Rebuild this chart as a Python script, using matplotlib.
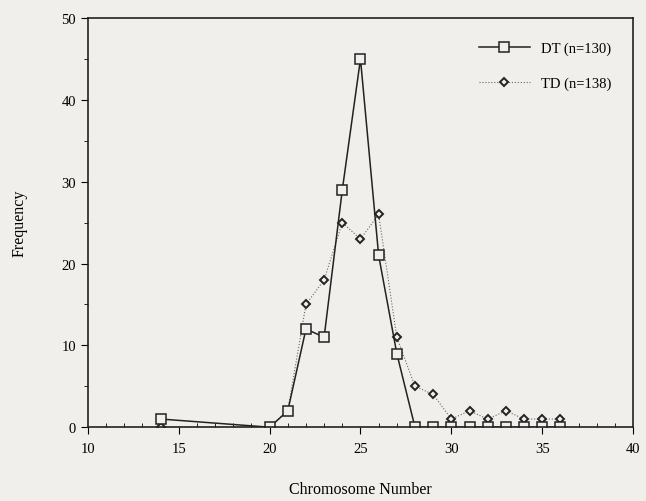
import matplotlib
matplotlib.use("Agg")
import matplotlib.pyplot as plt
from matplotlib.ticker import MultipleLocator

plt.rcParams['font.family'] = ['Liberation Serif', 'DejaVu Serif']

# DT (n=130)
dt_x = [14, 20, 21, 22, 23, 24, 25, 26, 27, 28, 29, 30, 31, 32, 33, 34, 35, 36]
dt_y = [1, 0, 2, 12, 11, 29, 45, 21, 9, 0, 0, 0, 0, 0, 0, 0, 0, 0]

# TD (n=138)
td_x = [14, 20, 21, 22, 23, 24, 25, 26, 27, 28, 29, 30, 31, 32, 33, 34, 35, 36]
td_y = [0, 0, 2, 15, 18, 25, 23, 26, 11, 5, 4, 1, 2, 1, 2, 1, 1, 1]

bg = '#f1efec'
fig = plt.figure(figsize=(6.46, 5.02), dpi=100, facecolor=bg)
ax = fig.add_axes([0.136, 0.147, 0.844, 0.815])
ax.set_facecolor(bg)

ax.plot(td_x, td_y, color='#666666', linestyle=':', linewidth=0.8,
        marker='D', markersize=4.2, markerfacecolor=bg, markeredgecolor='#222222',
        markeredgewidth=1.4, label='TD (n=138)')
ax.plot(dt_x, dt_y, color='#222222', linestyle='-', linewidth=1.1,
        marker='s', markersize=6.5, markerfacecolor=bg, markeredgecolor='#222222',
        markeredgewidth=1.1, label='DT (n=130)')

ax.set_xlim(10, 40)
ax.set_ylim(0, 50)
ax.xaxis.set_major_locator(MultipleLocator(5))
ax.xaxis.set_minor_locator(MultipleLocator(1))
ax.yaxis.set_major_locator(MultipleLocator(10))
ax.yaxis.set_minor_locator(MultipleLocator(5))
ax.tick_params(axis='x', which='major', direction='out', length=5, labelsize=10.5, pad=6)
ax.tick_params(axis='x', which='minor', direction='in', length=3)
ax.tick_params(axis='y', which='major', direction='out', length=5, labelsize=10.5)
ax.tick_params(axis='y', which='minor', direction='out', length=3)
for s in ax.spines.values():
    s.set_linewidth(1.2)
    s.set_color('#222222')

ax.set_xlabel('Chromosome Number', fontsize=11.5, va='center')
ax.xaxis.set_label_coords(0.5, -0.152)
ax.set_ylabel('Frequency', fontsize=11.5, va='center')
ax.yaxis.set_label_coords(-0.125, 0.5)

h, l = ax.get_legend_handles_labels()
ax.legend(h[::-1], l[::-1], loc='upper right', frameon=False, fontsize=10.5,
          numpoints=1, handlelength=3.5, labelspacing=1.5,
          bbox_to_anchor=(0.985, 0.975))

fig.savefig('out.png', dpi=100, facecolor=bg)
